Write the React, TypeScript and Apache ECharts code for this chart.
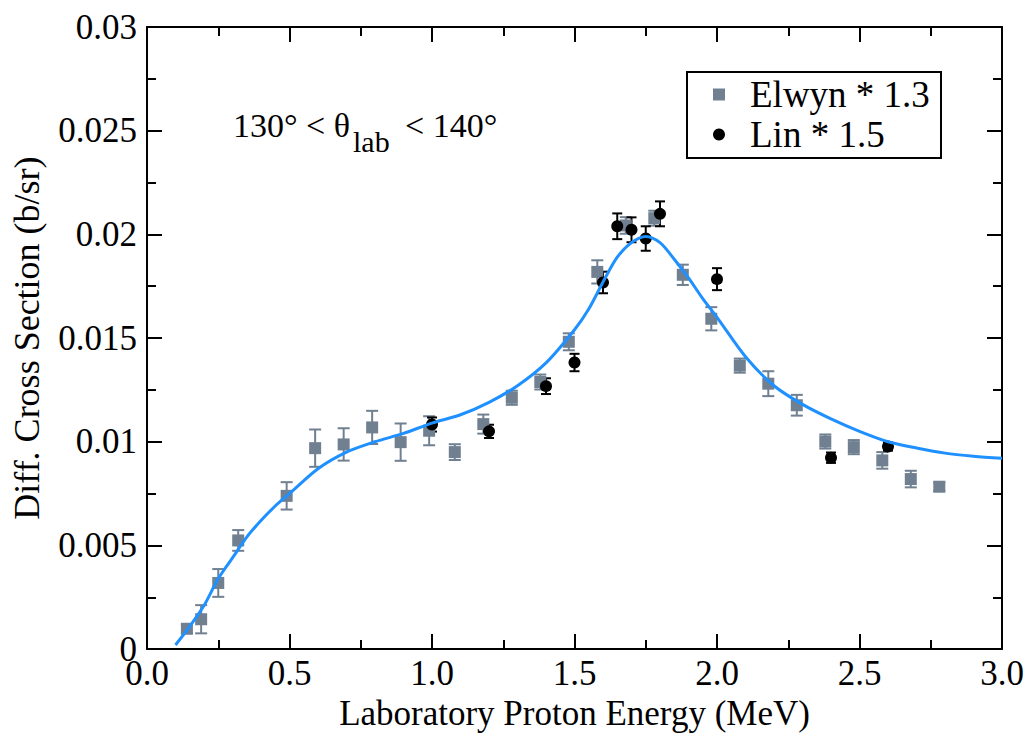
import React, { useEffect, useRef } from "react";
import * as echarts from "echarts";

const FONT = "'Liberation Serif', 'Times New Roman', serif";

const xTicks = [0, 0.5, 1.0, 1.5, 2.0, 2.5, 3.0];
const yTicks = [0, 0.005, 0.01, 0.015, 0.02, 0.025, 0.03];

const elwynX = [0.14, 0.19, 0.25, 0.32, 0.49, 0.59, 0.69, 0.79, 0.89, 0.99, 1.08, 1.18, 1.28, 1.38, 1.48, 1.58, 1.68, 1.78, 1.88, 1.98, 2.08, 2.18, 2.28, 2.38, 2.48, 2.58, 2.68, 2.78];
const elwynY = [0.00098, 0.00144, 0.00319, 0.00524, 0.00739, 0.00969, 0.00987, 0.01069, 0.00998, 0.01053, 0.0095, 0.01085, 0.01212, 0.01288, 0.01482, 0.01819, 0.02043, 0.02078, 0.01805, 0.01593, 0.01367, 0.0128, 0.01176, 0.01001, 0.00974, 0.0091, 0.0082, 0.00783];
const elwynErr = [0.0002, 0.00068, 0.00067, 0.0005, 0.00066, 0.0009, 0.00078, 0.0008, 0.0009, 0.0007, 0.00038, 0.00046, 0.00034, 0.00036, 0.00041, 0.00056, 0.0004, 0.00036, 0.00049, 0.00056, 0.00034, 0.0006, 0.0005, 0.00034, 0.00034, 0.0004, 0.0004, 0.0002];

const linX = [1.0, 1.2, 1.4, 1.5, 1.6, 1.65, 1.7, 1.75, 1.8, 2.0, 2.4, 2.6];
const linY = [0.01083, 0.0105, 0.01268, 0.01382, 0.01768, 0.02039, 0.02022, 0.0198, 0.02099, 0.01784, 0.00923, 0.00977];
const linErr = [0.00034, 0.00032, 0.00038, 0.00042, 0.00052, 0.00062, 0.0006, 0.00059, 0.0006, 0.00053, 0.00025, 0.0002];

const curveX = [0.1, 0.15, 0.2, 0.25, 0.3, 0.35, 0.4, 0.45, 0.5, 0.6, 0.7, 0.8, 0.9, 1.0, 1.1, 1.2, 1.3, 1.4, 1.5, 1.55, 1.6, 1.65, 1.7, 1.75, 1.8, 1.85, 1.9, 1.95, 2.0, 2.1, 2.2, 2.3, 2.4, 2.5, 2.6, 2.7, 2.8, 2.9, 3.0];
const curveY = [0.0002, 0.0011, 0.0021, 0.0034, 0.0044, 0.0054, 0.0062, 0.0069, 0.0075, 0.0087, 0.0095, 0.01, 0.0104, 0.0109, 0.0113, 0.0119, 0.0127, 0.0138, 0.0154, 0.0164, 0.0177, 0.0189, 0.0196, 0.0199, 0.0196, 0.0188, 0.0179, 0.0169, 0.016, 0.0141, 0.0127, 0.0118, 0.0111, 0.0105, 0.01, 0.0097, 0.00945, 0.0093, 0.0092];

const GRAY = "#708090";
const BLUE = "#1E90FF";

function errorBarSeries(xs: number[], ys: number[], es: number[], color: string, cap: number) {
  return {
    type: "custom",
    data: xs.map((x, i) => [x, ys[i], es[i]]),
    encode: { x: 0, y: 1 },
    silent: true,
    renderItem: (params: any, api: any) => {
      const x = api.value(0);
      const y = api.value(1);
      const e = api.value(2);
      const lo = api.coord([x, y - e]);
      const hi = api.coord([x, y + e]);
      const style = { stroke: color, lineWidth: 2 };
      return {
        type: "group",
        children: [
          { type: "line", shape: { x1: lo[0], y1: lo[1], x2: hi[0], y2: hi[1] }, style },
          { type: "line", shape: { x1: lo[0] - cap, y1: lo[1], x2: lo[0] + cap, y2: lo[1] }, style },
          { type: "line", shape: { x1: hi[0] - cap, y1: hi[1], x2: hi[0] + cap, y2: hi[1] }, style },
        ],
      };
    },
  };
}

function axisParts() {
  return {
    splitLine: { show: false },
    axisLine: { show: true, onZero: false, lineStyle: { color: "#000", width: 2 } },
    axisTick: { show: true, inside: true, length: 15, lineStyle: { color: "#000", width: 2 } },
    minorTick: { show: true, splitNumber: 2, length: 9, lineStyle: { color: "#000", width: 2 } },
  };
}

export default function App() {
  const ref = useRef<HTMLDivElement>(null);
  useEffect(() => {
    if (!ref.current) return;
    const chart = echarts.init(ref.current, null, { renderer: "svg" });
    const xRange = { type: "value", min: xTicks[0], max: xTicks[xTicks.length - 1], interval: 0.5 };
    const yRange = { type: "value", min: yTicks[0], max: yTicks[yTicks.length - 1], interval: 0.005 };
    chart.setOption({
      animation: false,
      backgroundColor: "#fff",
      textStyle: { fontFamily: FONT },
      grid: { left: 147, right: 29, top: 27, bottom: 80 },
      xAxis: [
        {
          ...xRange,
          ...axisParts(),
          position: "bottom",
          axisLabel: { fontSize: 35, color: "#000", fontFamily: FONT, margin: 7, formatter: (v: number) => v.toFixed(1) },
          name: "Laboratory Proton Energy (MeV)",
          nameLocation: "middle",
          nameGap: 40,
          nameTextStyle: { fontSize: 35, color: "#000", fontFamily: FONT },
        },
        { ...xRange, ...axisParts(), position: "top", axisLabel: { show: false } },
      ],
      yAxis: [
        {
          ...yRange,
          ...axisParts(),
          position: "left",
          axisLabel: {
            fontSize: 35,
            color: "#000",
            fontFamily: FONT,
            margin: 10,
            formatter: (v: number) => (v === 0 ? "0" : String(+v.toFixed(3))),
          },
          name: "Diff. Cross Section (b/sr)",
          nameLocation: "middle",
          nameGap: 102,
          nameRotate: 90,
          nameTextStyle: { fontSize: 36, color: "#000", fontFamily: FONT },
        },
        { ...yRange, ...axisParts(), position: "right", axisLabel: { show: false } },
      ],
      legend: {
        orient: "vertical",
        left: 708,
        top: 71,
        itemWidth: 12,
        itemHeight: 12,
        itemGap: 3,
        data: [
          { name: "Elwyn * 1.3", icon: "rect" },
          { name: "Lin * 1.5", icon: "circle" },
        ],
        textStyle: { fontSize: 37, color: "#000", fontFamily: FONT, padding: [0, 0, 0, 20] },
      },
      graphic: [
        { type: "rect", shape: { x: 687, y: 72, width: 254, height: 86 }, style: { fill: "none", stroke: "#000", lineWidth: 2 }, z: 100 },
        { type: "text", x: 233, y: 125, style: { text: "130° < θ", fontSize: 34, fontFamily: FONT, fill: "#000", verticalAlign: "middle", align: "left" }, z: 100 },
        { type: "text", x: 353, y: 141, style: { text: "lab", fontSize: 30, fontFamily: FONT, fill: "#000", verticalAlign: "middle", align: "left" }, z: 100 },
        { type: "text", x: 405, y: 125, style: { text: "< 140°", fontSize: 34, fontFamily: FONT, fill: "#000", verticalAlign: "middle", align: "left" }, z: 100 },
      ],
      series: [
        errorBarSeries(elwynX, elwynY, elwynErr, GRAY, 6),
        {
          name: "Elwyn * 1.3",
          type: "scatter",
          symbol: "rect",
          symbolSize: 12,
          itemStyle: { color: GRAY, opacity: 1 },
          data: elwynX.map((x, i) => [x, elwynY[i]]),
        },
        {
          name: "curve",
          type: "line",
          showSymbol: false,
          smooth: 0.3,
          lineStyle: { color: BLUE, width: 3 },
          data: curveX.map((x, i) => [x, curveY[i]]),
        },
        errorBarSeries(linX, linY, linErr, "#000", 5),
        {
          name: "Lin * 1.5",
          type: "scatter",
          symbol: "circle",
          symbolSize: 12,
          itemStyle: { color: "#000", opacity: 1 },
          data: linX.map((x, i) => [x, linY[i]]),
        },
      ],
    });
    return () => chart.dispose();
  }, []);
  return (
    <div
      ref={ref}
      style={{ position: "fixed", left: 0, top: 0, width: 1031, height: 736, background: "#fff" }}
    />
  );
}
